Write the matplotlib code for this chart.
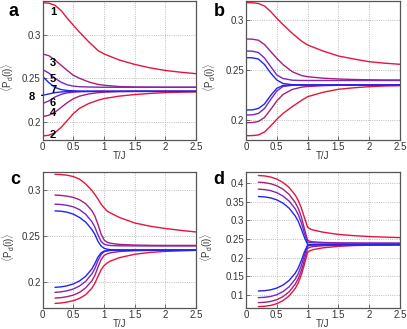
import matplotlib
matplotlib.use('Agg')
import matplotlib.pyplot as plt
from matplotlib.ticker import FuncFormatter

plt.rcParams['font.family'] = ['Liberation Sans', 'DejaVu Sans']
plt.rcParams['mathtext.fontset'] = 'custom'
plt.rcParams['mathtext.rm'] = 'Liberation Sans'
plt.rcParams['mathtext.it'] = 'Liberation Sans:italic'

# temperature grids
T_ab = [0, 0.1, 0.2, 0.3, 0.4, 0.5, 0.6, 0.75, 0.9, 1.0, 1.25, 1.5, 1.75, 2.0, 2.25, 2.5]
T_cd = [0.2, 0.3, 0.4, 0.5, 0.6, 0.7, 0.8, 0.85, 0.9, 0.95, 1.0, 1.05, 1.1, 1.25, 1.5, 1.75, 2.0, 2.25, 2.5]

# panel a, curves 1..8
a1 = [0.337, 0.3365, 0.334, 0.328, 0.319, 0.311, 0.303, 0.292, 0.282, 0.278, 0.271, 0.266, 0.262, 0.259, 0.257, 0.2553]
a2 = [0.1836, 0.1845, 0.1875, 0.1935, 0.2015, 0.2095, 0.2155, 0.221, 0.2248, 0.2267, 0.2295, 0.2313, 0.2326, 0.2336, 0.234, 0.2343]
a3 = [0.278, 0.276, 0.271, 0.265, 0.259, 0.2534, 0.25, 0.2458, 0.243, 0.242, 0.2405, 0.24, 0.2398, 0.2397, 0.2397, 0.2397]
a4 = [0.2059, 0.2075, 0.211, 0.2165, 0.222, 0.2265, 0.2295, 0.232, 0.2335, 0.234, 0.2347, 0.2349, 0.235, 0.235, 0.235, 0.235]
a5 = [0.26, 0.256, 0.25, 0.2455, 0.2425, 0.241, 0.2403, 0.24, 0.2398, 0.2397, 0.2397, 0.2397, 0.2397, 0.2397, 0.2397, 0.2397]
a6 = [0.221, 0.224, 0.2285, 0.2315, 0.2333, 0.234, 0.2345, 0.2348, 0.235, 0.235, 0.235, 0.235, 0.235, 0.235, 0.235, 0.235]
a7 = [0.2519, 0.245, 0.2395, 0.237, 0.236, 0.2355, 0.2352, 0.235, 0.235, 0.235, 0.235, 0.235, 0.235, 0.235, 0.235, 0.235]
a8 = [0.2305, 0.232, 0.2335, 0.2343, 0.2347, 0.235, 0.235, 0.235, 0.235, 0.235, 0.235, 0.235, 0.235, 0.235, 0.235, 0.235]

# panel b
b1 = [0.3173, 0.3172, 0.3165, 0.314, 0.3085, 0.3017, 0.2955, 0.2867, 0.279, 0.275, 0.269, 0.264, 0.261, 0.2583, 0.2568, 0.2557]
b2 = [0.1843, 0.1844, 0.185, 0.188, 0.194, 0.2007, 0.2065, 0.2133, 0.2195, 0.2233, 0.2277, 0.2307, 0.2322, 0.2333, 0.234, 0.2343]
b3 = [0.281, 0.2808, 0.2798, 0.2755, 0.2685, 0.2617, 0.2555, 0.2483, 0.2445, 0.2433, 0.2418, 0.241, 0.2405, 0.2402, 0.24, 0.24]
b4 = [0.1973, 0.1974, 0.1985, 0.2025, 0.2105, 0.219, 0.2255, 0.2305, 0.2328, 0.2335, 0.2343, 0.2347, 0.2349, 0.235, 0.235, 0.235]
b5 = [0.269, 0.2688, 0.2675, 0.262, 0.2535, 0.245, 0.2415, 0.2398, 0.2395, 0.2395, 0.2395, 0.2395, 0.2395, 0.2395, 0.2395, 0.2395]
b6 = [0.205, 0.2051, 0.2065, 0.2115, 0.2205, 0.229, 0.2335, 0.2347, 0.235, 0.235, 0.235, 0.235, 0.235, 0.235, 0.235, 0.235]
b7 = [0.2623, 0.2622, 0.261, 0.2555, 0.247, 0.24, 0.2365, 0.2353, 0.2351, 0.235, 0.235, 0.235, 0.235, 0.235, 0.235, 0.235]
b8 = [0.21, 0.2101, 0.2115, 0.216, 0.2245, 0.2317, 0.2345, 0.235, 0.235, 0.235, 0.235, 0.235, 0.235, 0.235, 0.235, 0.235]

# panel c
c1 = [0.3175, 0.3172, 0.3165, 0.315, 0.3122, 0.307, 0.3, 0.2955, 0.2905, 0.285, 0.281, 0.2775, 0.2755, 0.2705, 0.2645, 0.261, 0.2585, 0.2565, 0.2547]
c2 = [0.177, 0.1775, 0.1785, 0.18, 0.1825, 0.1865, 0.1935, 0.199, 0.2065, 0.2135, 0.2182, 0.221, 0.223, 0.2268, 0.2305, 0.2325, 0.2336, 0.2342, 0.2347]
c3 = [0.2949, 0.2945, 0.2937, 0.2923, 0.2898, 0.2855, 0.278, 0.272, 0.263, 0.2525, 0.246, 0.2435, 0.2425, 0.2412, 0.2405, 0.2402, 0.2401, 0.2401, 0.2401]
c4 = [0.1828, 0.1833, 0.1844, 0.1861, 0.189, 0.194, 0.2015, 0.2075, 0.2165, 0.2245, 0.2292, 0.231, 0.232, 0.2335, 0.2343, 0.2347, 0.2349, 0.235, 0.235]
c5 = [0.285, 0.2846, 0.2837, 0.2821, 0.279, 0.274, 0.266, 0.26, 0.2515, 0.2445, 0.2415, 0.2405, 0.24, 0.2397, 0.2396, 0.2395, 0.2395, 0.2395, 0.2395]
c6 = [0.189, 0.1896, 0.1908, 0.1927, 0.196, 0.201, 0.209, 0.215, 0.2235, 0.23, 0.2333, 0.2342, 0.2346, 0.2349, 0.235, 0.235, 0.235, 0.235, 0.235]
c7 = [0.2777, 0.2773, 0.2762, 0.2741, 0.2705, 0.2655, 0.2575, 0.252, 0.2445, 0.2395, 0.237, 0.236, 0.2355, 0.2351, 0.235, 0.235, 0.235, 0.235, 0.235]
c8 = [0.1945, 0.195, 0.1962, 0.1982, 0.2015, 0.2065, 0.2145, 0.2205, 0.2275, 0.232, 0.234, 0.2345, 0.2348, 0.235, 0.235, 0.235, 0.235, 0.235, 0.235]

# panel d
d1 = [0.4206, 0.4195, 0.4165, 0.411, 0.402, 0.3885, 0.368, 0.353, 0.333, 0.307, 0.2818, 0.2765, 0.274, 0.2685, 0.2625, 0.2592, 0.2568, 0.2553, 0.254]
d2 = [0.0687, 0.0696, 0.072, 0.0766, 0.0848, 0.0975, 0.1175, 0.133, 0.1545, 0.183, 0.2146, 0.2195, 0.222, 0.2265, 0.2305, 0.2325, 0.2336, 0.2343, 0.2347]
d3 = [0.4027, 0.4015, 0.3985, 0.393, 0.384, 0.37, 0.348, 0.332, 0.309, 0.277, 0.2465, 0.2435, 0.2425, 0.241, 0.2398, 0.2393, 0.239, 0.2388, 0.2388]
d4 = [0.0794, 0.0803, 0.0826, 0.0873, 0.0955, 0.1085, 0.129, 0.1445, 0.166, 0.195, 0.2254, 0.2285, 0.2302, 0.232, 0.2335, 0.2342, 0.2346, 0.2348, 0.235]
d5 = [0.3839, 0.3828, 0.38, 0.3745, 0.3655, 0.352, 0.331, 0.315, 0.2935, 0.265, 0.2415, 0.2405, 0.2398, 0.2392, 0.239, 0.239, 0.239, 0.239, 0.239]
d6 = [0.0928, 0.0937, 0.096, 0.1007, 0.109, 0.122, 0.1425, 0.158, 0.1795, 0.207, 0.2315, 0.2335, 0.2342, 0.2347, 0.235, 0.235, 0.235, 0.235, 0.235]
d7 = [0.3642, 0.3632, 0.3605, 0.3552, 0.3465, 0.333, 0.312, 0.297, 0.2765, 0.254, 0.2355, 0.2352, 0.2351, 0.235, 0.235, 0.235, 0.235, 0.235, 0.235]
d8 = [0.1107, 0.1115, 0.1138, 0.1185, 0.1265, 0.139, 0.1585, 0.173, 0.193, 0.216, 0.2335, 0.2345, 0.2348, 0.235, 0.235, 0.235, 0.235, 0.235, 0.235]

# colours for curves 1..8 (pairs share a colour)
colors = ['#E5143C', '#E5143C', '#A3207D', '#A3207D', '#7A27BE', '#7A27BE', '#2424F0', '#2424F0']

# curve number labels in panel a (T position, value)
label_T = 0.17
label_y = [0.3264, 0.1851, 0.2678, 0.2103, 0.2494, 0.2218, 0.2368]

panels = [
    ('a', T_ab, [a1, a2, a3, a4, a5, a6, a7, a8], (0.179, 0.339), [0.2, 0.25, 0.3]),
    ('b', T_ab, [b1, b2, b3, b4, b5, b6, b7, b8], (0.18, 0.319), [0.2, 0.25, 0.3]),
    ('c', T_cd, [c1, c2, c3, c4, c5, c6, c7, c8], (0.172, 0.32), [0.2, 0.25, 0.3]),
    ('d', T_cd, [d1, d2, d3, d4, d5, d6, d7, d8], (0.065, 0.43), [0.1, 0.15, 0.2, 0.25, 0.3, 0.35, 0.4]),
]
rects = [
    [0.105, 0.5745, 0.377, 0.4225],
    [0.6045, 0.5745, 0.378, 0.4225],
    [0.105, 0.0638, 0.377, 0.4134],
    [0.6045, 0.0638, 0.378, 0.4134],
]
ylabel_x = [-0.172, -0.185, -0.168, -0.2]
letter_pos = [(0.034, 0.964), (0.538, 0.964), (0.037, 0.453), (0.538, 0.453)]

fig = plt.figure(figsize=(4.07, 3.29), dpi=100)

for (name, T, curves, ylim, yticks), rect, lx, lp in zip(panels, rects, ylabel_x, letter_pos):
    ax = fig.add_axes(rect)
    for y, col in zip(curves, colors):
        ax.plot(T, y, color=col, lw=1.0, solid_capstyle='round')
    ax.set_xlim(0, 2.5)
    ax.set_ylim(*ylim)
    ax.set_xticks([0, 0.5, 1, 1.5, 2, 2.5])
    ax.set_yticks(yticks)
    ax.xaxis.set_major_formatter(FuncFormatter(lambda v, p: '%g' % v))
    ax.yaxis.set_major_formatter(FuncFormatter(lambda v, p: '%g' % v))
    ax.grid(True, ls=':', color='#a8a8a8', lw=0.6)
    ax.tick_params(direction='in', length=3, width=0.6, colors='#555555',
                   labelsize=7, labelcolor='#333333', pad=1.5)
    for s in ax.spines.values():
        s.set_color('#555555')
        s.set_linewidth(0.9)
    ax.set_xlabel('T/J', fontsize=7, color='#333333', labelpad=-0.5)
    ax.set_ylabel(r'$\langle \mathrm{P}_{\mathrm{d}}(\mathrm{i})\rangle$', fontsize=7, color='#333333')
    ax.yaxis.set_label_coords(lx, 0.45)
    fig.text(lp[0], lp[1], name, fontsize=13, fontweight='bold', ha='center', va='center')

    if name == 'a':
        for i, yv in enumerate(label_y):
            ax.text(label_T, yv, str(i + 1), fontsize=8, fontweight='bold',
                    ha='center', va='center')
        ax.annotate('8', xy=(0, a8[0]), xytext=(-8, -1), textcoords='offset points',
                    fontsize=8, fontweight='bold', ha='center', va='center',
                    arrowprops=dict(arrowstyle='-', color='k', lw=1.0,
                                    shrinkA=3, shrinkB=0), annotation_clip=False)

fig.savefig('out.png', dpi=100)
